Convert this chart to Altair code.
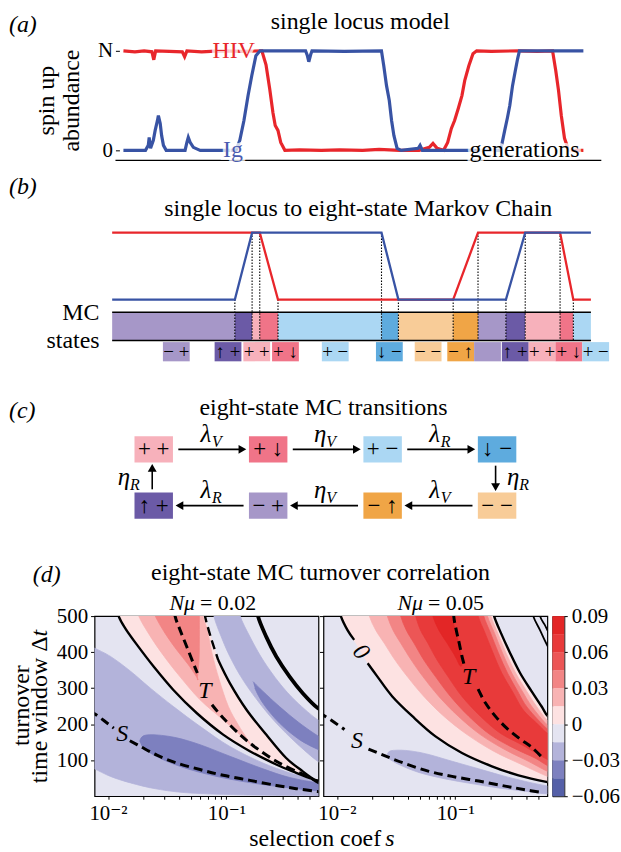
import altair as alt
import pandas as pd

FONT = "'Liberation Serif', 'Times New Roman', 'DejaVu Serif', serif"
RED = "#e8262b"
BLUE = "#3853a4"
TS = 24   # title / label font size
LS = 21   # tick label font size

# ---------------- (a) single locus model ----------------
HIV = [(0, 1.0), (2.5, 0.99), (4.5, 1.0), (6.2, 0.99), (6.6, 0.91), (7.0, 1.0), (10, 0.995), (12.8, 0.99),
       (13.3, 0.94), (13.8, 1.0), (17, 0.99), (21, 1.0), (26, 0.995), (30.1, 1.0), (31.0, 0.86), (31.8, 0.62),
       (32.5, 0.38), (33.0, 0.25), (33.6, 0.2), (34.2, 0.08), (35.1, 0.0), (38.3, 0.005), (43, 0.0),
       (47.0, 0.005), (52, 0.0), (55.6, 0.01), (60, 0.0), (64.3, 0.0), (66.5, 0.03), (67.3, 0.07),
       (68.2, 0.02), (69.6, 0.0), (70.5, 0.08), (71.3, 0.22), (72.0, 0.3), (72.8, 0.42), (73.6, 0.55),
       (74.2, 0.7), (75.1, 0.85), (76.0, 0.97), (76.8, 1.0), (80, 0.995), (85.9, 1.0), (90, 0.995),
       (93.3, 1.0), (94.0, 0.8), (94.6, 0.6), (95.2, 0.35), (95.9, 0.12), (96.8, 0.0), (100, 0.0)]
IG = [(0, 0.0), (4.8, 0.0), (5.4, 0.05), (5.6, 0.13), (5.9, 0.02), (6.5, 0.1), (6.9, 0.2), (7.4, 0.3),
      (7.6, 0.35), (8.0, 0.27), (8.3, 0.15), (8.7, 0.05), (9.3, 0.0), (13.4, 0.0), (13.8, 0.08), (14.1, 0.13),
      (14.5, 0.08), (15.2, 0.03), (16.7, 0.0), (20, 0.0), (24.5, 0.0), (25.3, 0.1), (26.2, 0.3), (27.1, 0.55),
      (27.9, 0.75), (28.8, 0.95), (29.7, 1.0), (35, 1.0), (39.6, 1.0), (40.0, 0.95), (40.3, 0.89),
      (40.7, 0.96), (41.0, 1.0), (48, 0.995), (56.1, 1.0), (56.6, 0.85), (57.2, 0.65), (57.8, 0.5),
      (58.3, 0.3), (58.8, 0.15), (59.5, 0.02), (60.4, 0.0), (64.1, 0.02), (64.5, 0.05), (65.0, 0.0),
      (75, 0.0), (82.0, 0.0), (82.9, 0.2), (83.5, 0.33), (84.0, 0.45), (84.6, 0.65), (85.2, 0.8),
      (85.7, 0.92), (86.1, 1.0), (92, 1.0), (100, 1.0)]
A_LABEL_TEXT = ["HIV", "Ig", "generations"]
A_LABEL_T = [24.0, 23.8, 87.2]
A_LABEL_V = [1.0, 0.0, 0.0]
A_LABEL_COLOR = [RED, "#4a5cb0", "black"]

# ---------------- (b) single locus to eight-state MC ----------------
STATES = ["−+", "↑+", "++", "+↓", "+−", "↓−", "−−", "−↑"]
STATE_COLORS = ["#a697c8", "#6b5aa6", "#f7b1bb", "#f07488", "#abd7f3", "#5eabde", "#f8cc98", "#f0a546"]
SEG_START = [0, 25.63, 29.23, 30.83, 34.64, 56.26, 59.79, 71.23, 76.42, 82.25, 86.28, 93.56, 96.33]
SEG_END = [25.63, 29.23, 30.83, 34.64, 56.26, 59.79, 71.23, 76.42, 82.25, 86.28, 93.56, 96.33, 100]
SEG_STATE = ["−+", "↑+", "++", "+↓", "+−", "↓−", "−−", "−↑", "−+", "↑+", "++", "+↓", "+−"]
TRANS_LEVEL = [0, 1, 1, 0, 1, 0, 0, 1, 0, 1, 1, 0]
B_RED = [(0, 1), (30.83, 1), (34.64, 0), (71.23, 0), (76.42, 1), (93.56, 1), (96.33, 0), (100, 0)]
B_BLUE = [(0, 0), (25.63, 0), (29.23, 1), (56.26, 1), (59.79, 0), (82.25, 0), (86.28, 1), (100, 1)]
LEG_CENTER = [13.4, 24.2, 30.2, 36.2, 46.6, 57.9, 66.0, 72.8, 78.4, 84.2, 89.8, 95.4, 101.0]
LEG_TEXT = ["− +", "↑ +", "+ +", "+ ↓", "+ −", "↓ −", "− −", "− ↑", "", "↑ +", "+ +", "+ ↓", "+ −"]

# ---------------- (c) eight-state MC transitions ----------------
C_STATE = ["++", "+↓", "+−", "↓−", "↑+", "−+", "−↑", "−−"]
C_TEXT = ["+ +", "+ ↓", "+ −", "↓ −", "↑ +", "− +", "− ↑", "− −"]
C_COL = [0, 1, 2, 3, 0, 1, 2, 3]
C_ROW = [0, 0, 0, 0, 1, 1, 1, 1]
C_TRANS = [("++", "+↓", "λ", "V"), ("+↓", "+−", "η", "V"), ("+−", "↓−", "λ", "R"), ("↓−", "−−", "η", "R"),
           ("−−", "−↑", "λ", "V"), ("−↑", "−+", "η", "V"), ("−+", "↑+", "λ", "R"), ("↑+", "++", "η", "R")]

# ---------------- (d) turnover correlation contours (s, Δt) ----------------
L_MED = [(0.0070, 418), (0.0077, 411), (0.0105, 388), (0.0155, 347), (0.0228, 300), (0.0357, 249),
         (0.0599, 194), (0.107, 138), (0.204, 92), (0.342, 65), (0.591, 42), (0.70, 36), (0.70, -5),
         (0.591, 0), (0.130, 4), (0.0493, 9), (0.0259, 20), (0.0155, 37), (0.0105, 55), (0.0077, 76),
         (0.0070, 80)]
L_DARK1 = [(0.0185, 152), (0.0200, 168), (0.0259, 170), (0.0381, 162), (0.0599, 143), (0.107, 111),
           (0.204, 76), (0.342, 52), (0.591, 37), (0.70, 34), (0.70, 12), (0.591, 15), (0.342, 23),
           (0.179, 35), (0.094, 51), (0.0493, 74), (0.0314, 97), (0.0228, 120), (0.0192, 140)]
L_MED2 = [(0.0756, 545), (0.0785, 500), (0.0882, 452), (0.107, 388), (0.138, 323), (0.191, 258),
          (0.264, 203), (0.389, 148), (0.591, 97), (0.70, 88), (0.70, 205), (0.591, 212), (0.389, 263),
          (0.281, 314), (0.204, 378), (0.158, 443), (0.131, 500), (0.126, 545)]
L_DARK2 = [(0.168, 318), (0.204, 291), (0.281, 249), (0.415, 203), (0.603, 166), (0.70, 158), (0.70, 124),
           (0.603, 129), (0.415, 157), (0.281, 203), (0.204, 258), (0.174, 300)]
L_Z1 = [(0.0114, 545), (0.0123, 500), (0.0140, 466), (0.0176, 420), (0.0243, 360), (0.0357, 295),
        (0.0561, 231), (0.094, 171), (0.158, 125), (0.264, 88), (0.389, 65), (0.544, 47)]
L_Z2 = [(0.0630, 545), (0.0660, 500), (0.0736, 443), (0.0854, 378), (0.107, 314), (0.148, 240),
        (0.217, 171), (0.320, 106), (0.442, 69), (0.544, 47)]
L_P1L = [(0.0168, 545), (0.0182, 500), (0.0220, 452), (0.0285, 397), (0.0394, 337), (0.0599, 268),
         (0.094, 212), (0.130, 171), (0.158, 145), (0.168, 136)]
L_P1R = [(0.0620, 545), (0.0633, 500), (0.0690, 461), (0.0756, 397), (0.087, 323), (0.104, 249),
         (0.126, 198), (0.148, 162), (0.168, 136)]
L_P2L = [(0.0225, 545), (0.0251, 500), (0.0304, 452), (0.0381, 406), (0.0478, 365), (0.0569, 328)]
L_P2R = [(0.0591, 545), (0.0591, 500), (0.0591, 425), (0.0587, 378), (0.0569, 328)]
L_Z3 = [(0.181, 545), (0.185, 500), (0.217, 443), (0.264, 388), (0.342, 332), (0.442, 286), (0.591, 245),
        (0.70, 238)]
L_T1 = [(0.0355, 545), (0.0369, 500), (0.0407, 461), (0.0463, 415), (0.0526, 369), (0.0569, 342)]
L_T2 = [(0.0756, 254), (0.094, 217), (0.130, 171), (0.179, 134), (0.264, 97), (0.389, 69), (0.503, 53),
        (0.591, 39), (0.65, 35)]
L_S1 = [(0.0070, 236), (0.0077, 229), (0.00923, 210), (0.0112, 189)]
L_S2 = [(0.0153, 154), (0.0188, 138), (0.0259, 114), (0.0381, 92), (0.0599, 74), (0.094, 58), (0.158, 44),
        (0.264, 30), (0.389, 21), (0.591, 13), (0.65, 11)]
L_TXT = [("T", 0.066, 292, 0), ("S", 0.0132, 172, 0)]

R_MED = [(0.0267, 115), (0.0285, 126), (0.0381, 127), (0.0561, 118), (0.094, 97), (0.158, 76), (0.264, 55),
         (0.442, 37), (0.603, 28), (0.66, 22), (0.66, 10), (0.572, 7), (0.389, 14), (0.232, 23), (0.138, 35),
         (0.0827, 48), (0.0493, 66), (0.0335, 88), (0.0276, 104)]
R_Z1 = [(0.0100, 545), (0.0108, 500), (0.0123, 461), (0.0145, 425), (0.0176, 378), (0.0220, 332),
        (0.0294, 277), (0.0434, 222), (0.0681, 166), (0.114, 120), (0.204, 83), (0.342, 58), (0.603, 39),
        (0.70, 37)]
R_Z2 = [(0.200, 545), (0.213, 500), (0.244, 452), (0.291, 397), (0.353, 342), (0.442, 291), (0.537, 249),
        (0.603, 223), (0.70, 215)]
R_B1L = [(0.0174, 545), (0.0188, 500), (0.0213, 461), (0.0251, 425), (0.0310, 378), (0.0394, 332),
         (0.0543, 277), (0.0801, 222), (0.126, 171), (0.211, 125), (0.353, 90), (0.603, 55), (0.70, 52)]
R_B1R = [(0.189, 545), (0.200, 500), (0.229, 452), (0.269, 397), (0.324, 342), (0.402, 291), (0.487, 249),
         (0.603, 210), (0.70, 205)]
R_B2L = [(0.0249, 545), (0.0267, 500), (0.0298, 461), (0.0346, 425), (0.0425, 378), (0.0533, 332),
         (0.0727, 277), (0.106, 222), (0.163, 171), (0.264, 129), (0.415, 97), (0.603, 69), (0.70, 66)]
R_B2R = [(0.177, 545), (0.187, 500), (0.215, 452), (0.251, 397), (0.300, 342), (0.369, 291), (0.448, 247),
         (0.603, 197), (0.70, 190)]
R_B3L = [(0.0322, 545), (0.0346, 500), (0.0386, 461), (0.0448, 425), (0.0543, 378), (0.0681, 332),
         (0.0911, 277), (0.130, 222), (0.197, 171), (0.310, 134), (0.472, 106), (0.603, 85), (0.70, 82)]
R_B3R = [(0.165, 545), (0.174, 500), (0.199, 452), (0.232, 397), (0.276, 342), (0.337, 291), (0.409, 245),
         (0.603, 186), (0.70, 180)]
R_B4L = [(0.0432, 545), (0.0463, 500), (0.0509, 461), (0.0587, 425), (0.0703, 378), (0.0870, 332),
         (0.114, 277), (0.163, 222), (0.240, 175), (0.364, 143), (0.603, 102), (0.70, 98)]
R_B4R = [(0.147, 545), (0.156, 500), (0.179, 452), (0.209, 397), (0.247, 342), (0.304, 291), (0.374, 240),
         (0.487, 203), (0.603, 174), (0.70, 168)]
R_B5 = [(0.0610, 545), (0.0647, 500), (0.0727, 461), (0.0854, 425), (0.100, 388), (0.110, 362), (0.114, 369),
        (0.110, 406), (0.102, 452), (0.0929, 500), (0.0918, 545)]
R_Z1A = [(0.0100, 545), (0.0108, 500), (0.0123, 461), (0.0140, 434)]
R_Z1B = [(0.0182, 369), (0.0220, 332), (0.0294, 277), (0.0434, 222), (0.0681, 166), (0.114, 120),
         (0.204, 83), (0.342, 58), (0.603, 39), (0.70, 37)]
R_C1 = [(0.435, 545), (0.456, 500), (0.520, 461), (0.603, 417), (0.70, 385)]
R_C2 = [(0.495, 545), (0.520, 500), (0.572, 475), (0.603, 460), (0.70, 420)]
R_T1 = [(0.0962, 545), (0.0971, 500), (0.102, 461), (0.108, 425), (0.114, 388), (0.119, 365)]
R_T2 = [(0.156, 297), (0.179, 260), (0.217, 223), (0.272, 189), (0.353, 159), (0.442, 136), (0.530, 111)]
R_S1 = [(0.0070, 232), (0.0076, 226), (0.00923, 208), (0.0116, 185)]
R_S2 = [(0.0185, 131), (0.0259, 111), (0.0381, 90), (0.0599, 69), (0.094, 55), (0.158, 42), (0.264, 28),
        (0.389, 18), (0.530, 11)]
R_TXT = [("T", 0.130, 332, 0), ("S", 0.0148, 152, 0), ("0", 0.0160, 400, 50)]

CB_LO = [-0.06, -0.045, -0.03, -0.015, 0.0, 0.015, 0.03, 0.045, 0.06, 0.075]
CB_HI = [-0.045, -0.03, -0.015, 0.0, 0.015, 0.03, 0.045, 0.06, 0.075, 0.09]
CB_COLORS = ["#5560a8", "#7d80bf", "#b3b3da", "#e4e4f1", "#fde2e2", "#f8b3b3", "#f28585", "#ec5656",
             "#e83a3a", "#e32626"]
CB_TICKS = [-0.06, -0.03, 0.0, 0.03, 0.06, 0.09]

ONE = pd.DataFrame({"k": [0]})


def label(text, x, y, size=TS, align="center", style="normal", angle=0, color="black"):
    return alt.Chart(ONE).mark_text(text=text, fontSize=size, align=align, baseline="middle", font=FONT,
                                    fontStyle=style, angle=angle, color=color).encode(
        x=alt.value(x), y=alt.value(y))


STATE_SCALE = alt.Scale(domain=STATES, range=STATE_COLORS)

# ======================= panel (a) =======================
A_XS = alt.Scale(domain=[-6.28, 105.8], nice=False, zero=False)
A_YS = alt.Scale(domain=[-0.10, 1.08], nice=False, zero=False)
A_YAX = alt.Axis(values=[0, 1], labelExpr="datum.value == 1 ? 'N' : '0'", offset=-25, domain=False,
                 grid=False, tickSize=4, tickColor="black", labelFontSize=LS, labelColor="black",
                 labelFont=FONT, labelPadding=3, title=None)


def ax_(f):
    return alt.X(f, type="quantitative", scale=A_XS, axis=None)


def ay_(f):
    return alt.Y(f, type="quantitative", scale=A_YS, axis=A_YAX)


hiv_df = pd.DataFrame(HIV, columns=["t", "v"])
ig_df = pd.DataFrame(IG, columns=["t", "v"])
a_axis_df = pd.DataFrame({"t": [-1.73], "t2": [103.9], "v": [-0.10]})
a_lab_df = pd.DataFrame({"txt": A_LABEL_TEXT, "t": A_LABEL_T, "v": A_LABEL_V, "col": A_LABEL_COLOR})

panel_a = alt.layer(
    alt.Chart(a_axis_df).mark_rule(color="black", strokeWidth=1.3).encode(x=ax_("t"), x2="t2:Q", y=ay_("v")),
    alt.Chart(hiv_df).mark_line(color=RED, strokeWidth=3.2).encode(x=ax_("t"), y=ay_("v")),
    alt.Chart(ig_df).mark_line(color=BLUE, strokeWidth=3.2).encode(x=ax_("t"), y=ay_("v")),
    alt.Chart(a_lab_df).mark_text(fontSize=TS, font=FONT, baseline="middle", fill="white", fillOpacity=0.75,
                                  stroke="white", strokeWidth=6, strokeOpacity=0.75).encode(
        x=ax_("t"), y=ay_("v"), text="txt:N"),
    alt.Chart(a_lab_df).mark_text(fontSize=TS, font=FONT, baseline="middle").encode(
        x=ax_("t"), y=ay_("v"), text="txt:N", color=alt.Color("col:N", scale=None)),
    label("single locus model", 267, -21),
    label("(a)", -86, -18, align="left", style="italic"),
    label("spin up", -48, 58, angle=270),
    label("abundance", -23, 58, angle=270),
).properties(width=518, height=118)

# ======================= panel (b) =======================
B_XS = alt.Scale(domain=[-3.68, 104.0], nice=False, zero=False)
B_YS = alt.Scale(domain=[-1.218, 2.08], nice=False, zero=False)


def bx(f):
    return alt.X(f, type="quantitative", scale=B_XS, axis=None)


def by(f):
    return alt.Y(f, type="quantitative", scale=B_YS, axis=None)


BAND_TOP, BAND_BOT = -0.189, -0.609
LEG_TOP, LEG_BOT, LEG_HALF = -0.634, -0.921, 2.8

seg_df = pd.DataFrame({"t": SEG_START, "t2": SEG_END, "state": SEG_STATE})
seg_df["y"] = BAND_TOP
seg_df["y2"] = BAND_BOT
frame_df = pd.DataFrame({"t": [SEG_START[0]] * 2, "t2": [SEG_END[-1]] * 2, "y": [BAND_TOP, BAND_BOT]})
dot_df = pd.DataFrame({"t": SEG_START[1:], "y": TRANS_LEVEL})
dot_df["y2"] = BAND_BOT
bred_df = pd.DataFrame(B_RED, columns=["t", "y"])
bblue_df = pd.DataFrame(B_BLUE, columns=["t", "y"])
leg_df = pd.DataFrame({"c": LEG_CENTER, "txt": LEG_TEXT, "state": SEG_STATE})
leg_df["t"] = leg_df["c"] - LEG_HALF
leg_df["t2"] = leg_df["c"] + LEG_HALF
leg_df["y"] = LEG_TOP
leg_df["y2"] = LEG_BOT
leg_df["ym"] = (LEG_TOP + LEG_BOT) / 2

panel_b = alt.layer(
    alt.Chart(seg_df).mark_rect().encode(x=bx("t"), x2="t2:Q", y=by("y"), y2="y2:Q",
                                         color=alt.Color("state:N", scale=STATE_SCALE, legend=None)),
    alt.Chart(frame_df).mark_rule(color="black", strokeWidth=1.5).encode(x=bx("t"), x2="t2:Q", y=by("y")),
    alt.Chart(dot_df).mark_rule(color="black", strokeWidth=1.1, strokeDash=[1.5, 1.5]).encode(
        x=bx("t"), y=by("y"), y2="y2:Q"),
    alt.Chart(bred_df).mark_line(color=RED, strokeWidth=2.3).encode(x=bx("t"), y=by("y")),
    alt.Chart(bblue_df).mark_line(color=BLUE, strokeWidth=2.3).encode(x=bx("t"), y=by("y")),
    alt.Chart(leg_df).mark_rect().encode(x=bx("t"), x2="t2:Q", y=by("y"), y2="y2:Q",
                                         color=alt.Color("state:N", scale=STATE_SCALE, legend=None)),
    alt.Chart(leg_df).mark_text(fontSize=19, font=FONT, baseline="middle", color="black").encode(
        x=bx("c"), y=by("ym"), text="txt:N"),
    label("MC", 5, 153, align="right"),
    label("states", 5, 182, align="right"),
    label("single locus to eight-state Markov Chain", 265, 49),
    label("(b)", -86, 27, align="left", style="italic"),
).properties(width=518, height=222)

# ======================= panel (c) =======================
C_XS = alt.Scale(domain=[-0.517, 3.987], nice=False, zero=False)
C_YS = alt.Scale(domain=[-1.212, 2.965], nice=False, zero=False, reverse=True)


def cx(f):
    return alt.X(f, type="quantitative", scale=C_XS, axis=None)


def cy(f):
    return alt.Y(f, type="quantitative", scale=C_YS, axis=None)


BOX_HW, BOX_HH = 0.168, 0.235
box_df = pd.DataFrame({"state": C_STATE, "txt": C_TEXT, "col": C_COL, "row": C_ROW})
box_df["x0"] = box_df["col"] - BOX_HW
box_df["x1"] = box_df["col"] + BOX_HW
box_df["y0"] = box_df["row"] - BOX_HH
box_df["y1"] = box_df["row"] + BOX_HH

pos = {s: (c, r) for s, c, r in zip(C_STATE, C_COL, C_ROW)}
arr_rows, lab_rows = [], []
for a, b, sym, sub in C_TRANS:
    (c0, r0), (c1, r1) = pos[a], pos[b]
    if r0 == r1:
        d = 1 if c1 > c0 else -1
        xs, xe = c0 + d * 0.215, c1 - d * 0.19
        arr_rows.append({"x": xs, "x2": xe - d * 0.03, "y": r0, "y2": r0, "hx": xe - d * 0.035, "hy": r0,
                         "dir": "right" if d > 0 else "left"})
        lab_rows.append({"x": (c0 + c1) / 2 - 0.045, "y": r0 - 0.28, "sym": sym, "sub": sub})
    else:
        d = 1 if r1 > r0 else -1
        ys, ye = r0 + d * 0.29, r1 - d * 0.24
        xx = c0 - 0.013
        arr_rows.append({"x": xx, "x2": xx, "y": ys, "y2": ye - d * 0.08, "hx": xx, "hy": ye - d * 0.09,
                         "dir": "down" if d > 0 else "up"})
        lx = c0 + 0.14 if c0 > 1.5 else c0 - 0.26
        lab_rows.append({"x": lx, "y": (r0 + r1) / 2 + 0.0, "sym": sym, "sub": sub})
arr_df = pd.DataFrame(arr_rows)
clab_df = pd.DataFrame(lab_rows)

panel_c = alt.layer(
    alt.Chart(box_df).mark_rect().encode(x=cx("x0"), x2="x1:Q", y=cy("y0"), y2="y1:Q",
                                         color=alt.Color("state:N", scale=STATE_SCALE, legend=None)),
    alt.Chart(box_df).mark_text(fontSize=23, font=FONT, baseline="middle", color="black").encode(
        x=cx("col"), y=cy("row"), text="txt:N"),
    alt.Chart(arr_df).mark_rule(color="black", strokeWidth=1.6).encode(x=cx("x"), x2="x2:Q", y=cy("y"),
                                                                        y2="y2:Q"),
    alt.Chart(arr_df).mark_point(filled=True, size=80, color="black", opacity=1).encode(
        x=cx("hx"), y=cy("hy"),
        shape=alt.Shape("dir:N", scale=alt.Scale(domain=["right", "left", "down", "up"],
                                                  range=["triangle-right", "triangle-left", "triangle-down",
                                                         "triangle-up"]), legend=None)),
    alt.Chart(clab_df).mark_text(fontSize=25, font=FONT, fontStyle="italic", baseline="middle",
                                 color="black").encode(x=cx("x"), y=cy("y"), text="sym:N"),
    alt.Chart(clab_df).mark_text(fontSize=16, font=FONT, baseline="middle", color="black", fontStyle="italic",
                                 dx=11, dy=8).encode(x=cx("x"), y=cy("y"), text="sub:N"),
    label("eight-state MC transitions", 230, 27),
    label("(c)", -86, 30, align="left", style="italic"),
).properties(width=518, height=236)

# ======================= panel (d) =======================
D_XS = alt.Scale(type="log", domain=[0.0077, 0.6], nice=False)
D_YS = alt.Scale(domain=[0, 500], nice=False, zero=False)
X_TICKS = [0.01, 0.02, 0.03, 0.04, 0.05, 0.06, 0.07, 0.08, 0.09, 0.1, 0.2, 0.3, 0.4, 0.5]
D_XAX = alt.Axis(values=X_TICKS, labelExpr="datum.value == 0.01 ? '10⁻²' : (datum.value == 0.1 ? '10⁻¹' : '')",
                 tickSize=3, tickColor="black", domain=False, grid=False, labelFontSize=LS, labelFont=FONT,
                 labelColor="black", labelPadding=3, labelOverlap=False, labelFlush=False, title=None)
D_YAX_L = alt.Axis(values=[100, 200, 300, 400, 500], tickSize=4, tickColor="black", domain=False, grid=False,
                   labelFontSize=LS, labelFont=FONT, labelColor="black", labelPadding=3, labelFlush=False,
                   title=None)
D_YAX_R = alt.Axis(values=[100, 200, 300, 400, 500], tickSize=4, tickColor="black", domain=False, grid=False,
                   labels=False, title=None)


def pts_df(pts):
    return pd.DataFrame({"s": [p[0] for p in pts], "dt": [p[1] for p in pts], "i": list(range(len(pts)))})


def d_panel(polys, lines, texts, yax, extra):
    def X():
        return alt.X("s:Q", scale=D_XS, axis=D_XAX)

    def Y():
        return alt.Y("dt:Q", scale=D_YS, axis=yax)

    layers = []
    for color, pts in polys:
        layers.append(alt.Chart(pts_df(pts)).mark_line(fill=color, stroke=color, strokeWidth=0.8,
                                                       interpolate="cardinal", clip=True).encode(
            x=X(), y=Y(), order=alt.Order("i:Q")))
    for pts, width, dashed in lines:
        kw = dict(color="black", strokeWidth=width, interpolate="cardinal", clip=True)
        if dashed:
            kw["strokeDash"] = [9, 5]
        layers.append(alt.Chart(pts_df(pts)).mark_line(**kw).encode(x=X(), y=Y(), order=alt.Order("i:Q")))
    for txt, s, dt, ang in texts:
        layers.append(alt.Chart(pd.DataFrame({"s": [s], "dt": [dt]})).mark_text(
            text=txt, fontSize=TS, font=FONT, fontStyle="italic", baseline="middle", angle=ang,
            color="black").encode(x=X(), y=Y()))
    layers.extend(extra)
    return alt.layer(*layers).properties(
        width=225, height=181, view=alt.ViewBackground(fill="#e4e4f1", stroke="black", strokeWidth=1.2))


left_polys = [("#b3b3da", L_MED), ("#7d80bf", L_DARK1), ("#b3b3da", L_MED2), ("#7d80bf", L_DARK2),
              ("#fde2e2", L_Z1 + L_Z2[::-1]), ("#f8b3b3", L_P1L + L_P1R[::-1]),
              ("#f28585", L_P2L + L_P2R[::-1])]
left_lines = [(L_Z1 + [(0.65, 42)], 2.4, False), (L_Z2[3:], 2.4, False), (L_Z2[:4], 2.4, True),
              (L_Z3, 3.8, False), (L_T1, 3, True), (L_T2, 3, True), (L_S1, 3, True), (L_S2, 3, True)]
left_extra = [
    label("(d)", -62, -41, align="left", style="italic"),
    label("eight-state MC turnover correlation", 227, -43),
    label("Nμ", 101, -13, size=22, align="right", style="italic"),
    label("= 0.02", 106, -13, size=22, align="left"),
    label("turnover", -73, 90, angle=270),
    label("time window Δ", -55, 20.5, align="right", angle=270),
    label("t", -55, 20.5, align="left", style="italic", angle=270),
    label("selection coef", 288, 224, align="right"),
    label("s", 292, 224, align="left", style="italic"),
]
panel_dl = d_panel(left_polys, left_lines, L_TXT, D_YAX_L, left_extra)

right_polys = [("#b3b3da", R_MED), ("#fde2e2", R_Z1 + R_Z2[::-1]), ("#f8b3b3", R_B1L + R_B1R[::-1]),
               ("#f28585", R_B2L + R_B2R[::-1]), ("#ec5656", R_B3L + R_B3R[::-1]),
               ("#e83a3a", R_B4L + R_B4R[::-1]), ("#e32626", R_B5)]
right_lines = [(R_Z1A, 2.4, False), (R_Z1B, 2.4, False), (R_Z2, 2.4, False), (R_C1, 1.8, False),
               (R_C2, 1.8, False), (R_T1, 3, True), (R_T2, 3, True), (R_S1, 3, True), (R_S2, 3, True)]
right_extra = [
    label("Nμ", 100, -13, size=22, align="right", style="italic"),
    label("= 0.05", 105, -13, size=22, align="left"),
]
panel_dr = d_panel(right_polys, right_lines, R_TXT, D_YAX_R, right_extra)

cb_df = pd.DataFrame({"lo": CB_LO, "hi": CB_HI, "col": CB_COLORS})
cb_df["x0"] = 0
cb_df["x1"] = 1
CB_LABEL = ("datum.value < -0.0001 ? format(datum.value, '.2f') : "
            "('\u2007' + (datum.value < 0.0001 ? '0' : format(datum.value, '.2f')))")
colorbar = alt.Chart(cb_df).mark_rect().encode(
    x=alt.X("x0:Q", scale=alt.Scale(domain=[0, 1], nice=False), axis=None), x2="x1:Q",
    y=alt.Y("lo:Q", scale=alt.Scale(domain=[-0.06, 0.09], nice=False, zero=False),
            axis=alt.Axis(orient="right", values=CB_TICKS, labelExpr=CB_LABEL, tickSize=3, tickColor="black",
                          domain=False, grid=False, labelFontSize=LS, labelFont=FONT, labelColor="black",
                          labelPadding=4, labelFlush=False, title=None)),
    y2="hi:Q",
    color=alt.Color("col:N", scale=None),
).properties(width=12, height=181, view=alt.ViewBackground(stroke="black", strokeWidth=1))

panel_d = alt.hconcat(panel_dl, panel_dr, colorbar, spacing=5, bounds="flush")

chart = alt.vconcat(panel_a, panel_b, panel_c, panel_d, spacing=0, bounds="flush").properties(
    padding={"left": 8, "top": 7, "right": 0, "bottom": 0}
).configure(font=FONT).configure_view(stroke="transparent").configure_axis(
    labelFont=FONT, titleFont=FONT)

chart.save("out.html", embed_options={"renderer": "svg", "actions": False})
